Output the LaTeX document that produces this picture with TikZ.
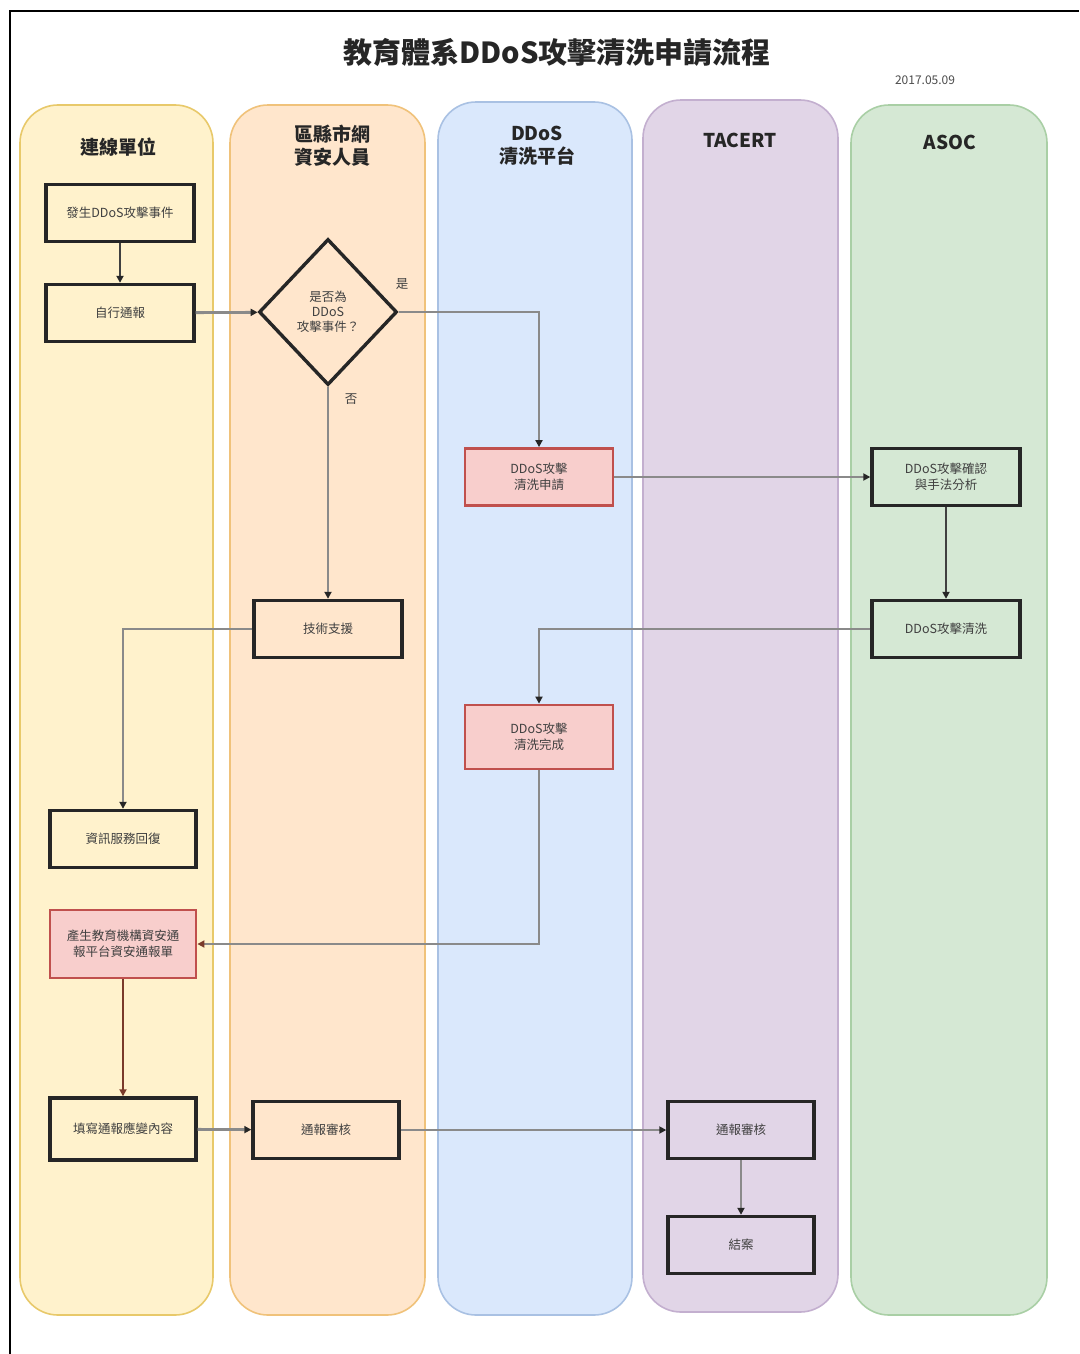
\documentclass[tikz,border=0pt]{standalone}
\usepackage{fontspec}
\setmainfont{Noto Sans CJK TC}
\usetikzlibrary{arrows.meta,shapes.geometric}
\definecolor{yfill}{HTML}{FFF2CC}\definecolor{ydraw}{HTML}{E8C96A}
\definecolor{ofill}{HTML}{FFE6CC}\definecolor{odraw}{HTML}{F0C27A}
\definecolor{bfill}{HTML}{DAE8FC}\definecolor{bdraw}{HTML}{A9C1E3}
\definecolor{pfill}{HTML}{E1D5E7}\definecolor{pdraw}{HTML}{C3AFCF}
\definecolor{gfill}{HTML}{D5E8D4}\definecolor{gdraw}{HTML}{A9CFA5}
\definecolor{rfill}{HTML}{F8CECC}\definecolor{rdraw}{HTML}{C0504D}
\definecolor{conn}{HTML}{8A8A8A}
\definecolor{brown}{HTML}{7A3A2A}
\begin{document}
\begin{tikzpicture}[x=1pt,y=-1pt,
  lane/.style={rounded corners=38pt, line width=1.6pt},
  lanetitle/.style={font=\fontsize{19}{23}\selectfont\bfseries, align=center, text=black!85},
  box/.style={draw=black!85, line width=3.4pt, minimum width=148pt, minimum height=57pt,
     inner sep=0pt, align=center, font=\fontsize{12.5}{16}\selectfont, text=black!75},
  redbox/.style={box, draw=rdraw, fill=rfill, line width=2.8pt},
  dia/.style={diamond, draw=black!85, line width=3.4pt, minimum width=138pt, minimum height=146pt,
     inner sep=0pt, align=center, font=\fontsize{12.5}{15}\selectfont, text=black!75},
  arr/.style={draw=conn, line width=2.8pt, -{Triangle[length=7pt,width=7pt,color=black!85]}},
  darr/.style={arr, draw=black!75},
  lbl/.style={font=\fontsize{12.5}{15}\selectfont, text=black!75}
]
\useasboundingbox (0,0) rectangle (1079,1354);
\fill[white] (0,0) rectangle (1079,1354);
% frame
\draw[line width=2pt, black] (10,1354) -- (10,11) -- (1079,11);
% lanes
\draw[lane, draw=ydraw, fill=yfill] (20,105) rectangle (213,1315);
\draw[lane, draw=odraw, fill=ofill] (230,105) rectangle (425,1315);
\draw[lane, draw=bdraw, fill=bfill] (438,102) rectangle (632,1315);
\draw[lane, draw=pdraw, fill=pfill] (643,100) rectangle (838,1312);
\draw[lane, draw=gdraw, fill=gfill] (851,105) rectangle (1047,1315);
% titles
\node[font=\fontsize{29}{34}\selectfont\bfseries, text=black!85] (title) at (557,52) {教育體系DDoS攻擊清洗申請流程};
\node[font=\fontsize{12}{14}\selectfont, text=black!70] (date) at (925,80) {2017.05.09};
\node[lanetitle] (t1) at (118,147) {連線單位};
\node[lanetitle] (t2) at (332,146) {區縣市網\\資安人員};
\node[lanetitle] (t3) at (537,146) {DDoS\\清洗平台};
\node[lanetitle] (t4) at (740,140) {TACERT};
\node[lanetitle] (t5) at (950,142) {ASOC};
% nodes
\node[box] (A) at (120,213) {發生DDoS攻擊事件};
\node[box] (B) at (120,313) {自行通報};
\node[dia] (D) at (328,312) {是否為\\DDoS\\攻擊事件？};
\node[redbox] (C) at (539,477) {DDoS攻擊\\清洗申請};
\node[box] (E) at (946,477) {DDoS攻擊確認\\與手法分析};
\node[box] (F) at (328,629) {技術支援};
\node[box] (G) at (946,629) {DDoS攻擊清洗};
\node[redbox, minimum height=64pt] (H) at (539,737) {DDoS攻擊\\清洗完成};
\node[box, minimum width=146pt] (I) at (123,839) {資訊服務回復};
\node[redbox, minimum width=146pt, minimum height=68pt] (J) at (123,944) {產生教育機構資安通\\報平台資安通報單};
\node[box, minimum width=146pt, minimum height=62pt] (K) at (123,1129) {填寫通報應變內容};
\node[box, minimum width=146pt] (L) at (326,1130) {通報審核};
\node[box, minimum width=146pt] (M) at (741,1130) {通報審核};
\node[box, minimum width=146pt] (N) at (741,1245) {結案};
\node[lbl] (yes) at (402,284) {是};
\node[lbl] (no) at (351,399) {否};
% connectors
\draw[darr] (A) -- (B);
\draw[arr] (B) -- (D);
\draw[arr] (D.east) -| (C.north);
\draw[arr] (D.south) -- (F.north);
\draw[arr] (C) -- (E);
\draw[darr] (E) -- (G);
\draw[arr] (G.west) -| (H.north);
\draw[arr] (F.west) -| (I.north);
\draw[draw=conn, line width=2.8pt, -{Triangle[length=7pt,width=7pt,color=brown]}] (H.south) |- (J.east);
\draw[draw=brown, line width=2.8pt, -{Triangle[length=7pt,width=7pt,color=brown]}] (J) -- (K);
\draw[arr] (K) -- (L);
\draw[arr] (L) -- (M);
\draw[arr] (M) -- (N);
\end{tikzpicture}
\end{document}
